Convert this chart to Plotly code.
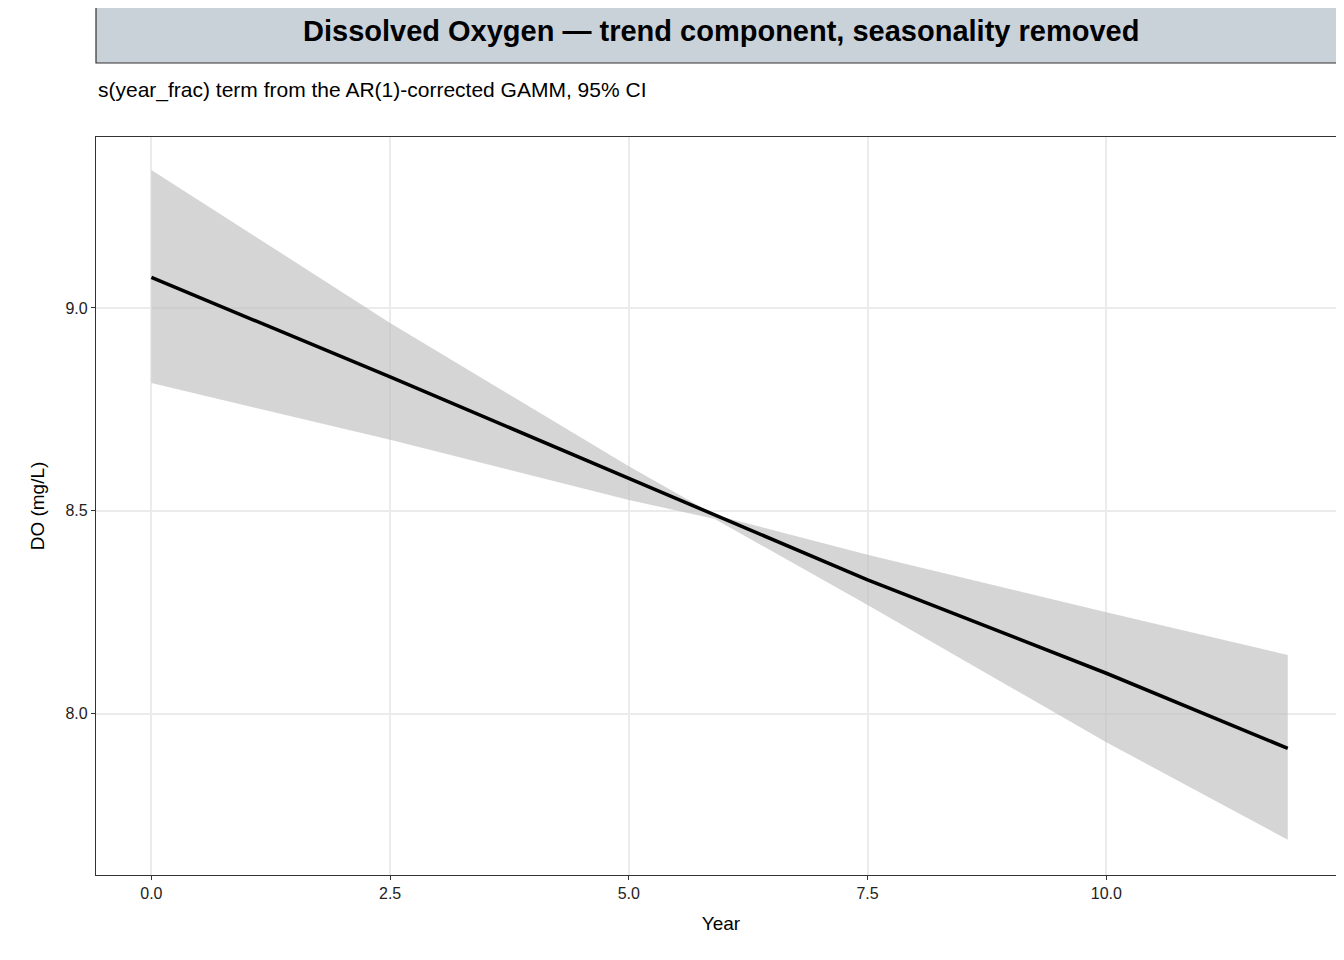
import plotly.graph_objects as go

years = [0, 2.5, 5, 5.9, 7.5, 10, 11.9]
fit = [9.075, 8.83, 8.58, 8.49, 8.33, 8.10, 7.915]
upper = [9.34, 8.963, 8.61, 8.49, 8.392, 8.25, 8.145]
lower = [8.815, 8.675, 8.527, 8.48, 8.268, 7.93, 7.69]

F = "Liberation Sans"
fig = go.Figure()
fig.add_trace(go.Scatter(x=years + years[::-1], y=upper + lower[::-1], fill="toself", mode="lines",
                         fillcolor="rgba(190,190,190,0.65)", line=dict(width=0),
                         hoverinfo="skip", showlegend=False))
fig.add_trace(go.Scatter(x=years, y=fit, mode="lines", line=dict(color="black", width=3.5),
                         showlegend=False))
ax = dict(showline=True, linecolor="#333", linewidth=1.2, mirror=True, ticks="outside",
          ticklen=4, tickcolor="#333", gridcolor="#ebebeb", gridwidth=1.5, zeroline=False,
          tickfont=dict(family=F, size=16, color="#222"))
fig.update_layout(
    width=1344, height=960, plot_bgcolor="white", paper_bgcolor="white",
    margin=dict(l=88, r=6, t=129, b=93),
    xaxis=dict(ax, range=[-0.58, 12.51], tickvals=[0, 2.5, 5, 7.5, 10, 12.5],
               ticktext=["0.0", "2.5", "5.0", "7.5", "10.0", "12.5"],
               title=dict(text="Year", font=dict(family=F, size=19, color="black"))),
    yaxis=dict(ax, range=[7.603, 9.421], tickvals=[8.0, 8.5, 9.0],
               ticktext=["8.0", "8.5", "9.0"],
               title=dict(text="DO (mg/L)", font=dict(family=F, size=19, color="black"))),
    shapes=[dict(type="rect", xref="paper", yref="paper", x0=0, x1=1, y0=1.1003, y1=1.1856,
                 fillcolor="#c9d1d9", line=dict(color="#333", width=1.2))],
    annotations=[
        dict(text="<b>Dissolved Oxygen — trend component, seasonality removed</b>",
             xref="paper", yref="paper", x=0.5, y=1.143, showarrow=False,
             font=dict(family=F, size=29, color="black"), xanchor="center", yanchor="middle"),
        dict(text="s(year_frac) term from the AR(1)-corrected GAMM, 95% CI",
             xref="paper", yref="paper", x=0, y=1.0637, showarrow=False,
             font=dict(family=F, size=21, color="black"), xanchor="left", yanchor="middle"),
    ],
)
fig.write_html("out.html")
